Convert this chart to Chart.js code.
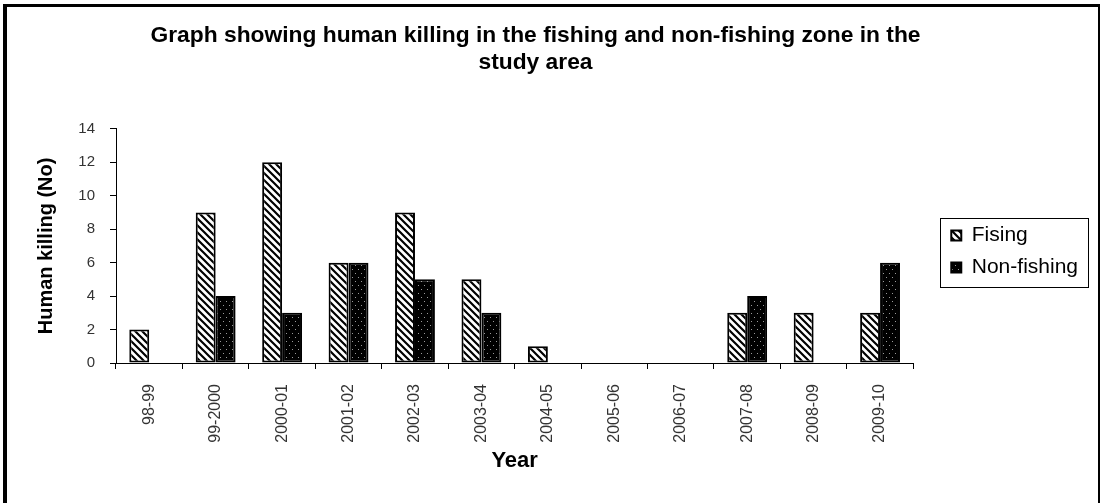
<!DOCTYPE html>
<html>
<head>
<meta charset="utf-8">
<script src="https://cdn.jsdelivr.net/npm/chart.js@4.4.1/dist/chart.umd.min.js"></script>
<style>
  body { margin: 0; background: #fff; }
  #wrap { position: relative; width: 1100px; height: 503px; overflow: hidden; }
  #killChart { position: absolute; left: 0; top: 0; }
  #frame {
    position: absolute; left: 3px; top: 4px; width: 1091px; height: 520px;
    border-left: 4px solid #000; border-top: 3px solid #000; border-right: 2px solid #000;
    pointer-events: none;
  }
</style>
</head>
<body>
<div id="wrap">
  <canvas id="killChart" width="1100" height="503"></canvas>
  <div id="frame"></div>
</div>
<script>
const years = ['98-99', '99-2000', '2000-01', '2001-02', '2002-03', '2003-04',
               '2004-05', '2005-06', '2006-07', '2007-08', '2008-09', '2009-10'];
const fishing = [2, 9, 12, 6, 9, 5, 1, 0, 0, 3, 3, 3];
const nonFishing = [0, 4, 3, 6, 5, 3, 0, 0, 0, 4, 0, 6];
const yTicks = [0, 2, 4, 6, 8, 10, 12, 14];
const seriesNames = ['Fising', 'Non-fishing'];

const FONT = 'Arial, "Liberation Sans", sans-serif';
const canvas = document.getElementById('killChart');
const ctx = canvas.getContext('2d');

// diagonal hatch, lines running down to the right
function hatchPattern() {
    const s = 7;
    const c = document.createElement('canvas');
    c.width = s; c.height = s;
    const g = c.getContext('2d');
    g.fillStyle = '#fff';
    g.fillRect(0, 0, s, s);
    g.strokeStyle = '#000';
    g.lineWidth = 2.2;
    g.beginPath();
    g.moveTo(-1, -1); g.lineTo(s + 1, s + 1);
    g.moveTo(-2, s - 2); g.lineTo(2, s + 2);
    g.moveTo(s - 2, -2); g.lineTo(s + 2, 2);
    g.stroke();
    return ctx.createPattern(c, 'repeat');
}

// black fill with small light dots
function dotPattern() {
    const c = document.createElement('canvas');
    c.width = 6; c.height = 8;
    const g = c.getContext('2d');
    g.fillStyle = '#000';
    g.fillRect(0, 0, 6, 8);
    g.fillStyle = '#9a9a9a';
    g.fillRect(1, 1, 1, 1);
    g.fillRect(4, 5, 1, 1);
    return ctx.createPattern(c, 'repeat');
}

// legend sits a bit away from the plot and gets a thin box around it
const legendFrame = {
    id: 'legendFrame',
    afterLayout(chart) {
        const lg = chart.legend;
        lg.left += 27;
        lg.right += 27;
    },
    afterDraw(chart) {
        const hb = chart.legend.legendHitBoxes;
        if (!hb || !hb.length) return;
        const left = Math.min(...hb.map(b => b.left)) - 11;
        const top = Math.min(...hb.map(b => b.top)) - 7.5;
        const right = Math.max(...hb.map(b => b.left + b.width)) + 10;
        const bottom = Math.max(...hb.map(b => b.top + b.height)) + 8.5;
        const c = chart.ctx;
        c.save();
        c.strokeStyle = '#000';
        c.lineWidth = 1;
        c.strokeRect(Math.round(left) + 0.5, Math.round(top) + 0.5,
                     Math.round(right - left), Math.round(bottom - top));
        c.restore();
    }
};

new Chart(ctx, {
    type: 'bar',
    data: {
        labels: years,
        datasets: [{
            label: seriesNames[0],
            data: fishing,
            backgroundColor: hatchPattern(),
            borderColor: '#000',
            borderWidth: 2,
            borderSkipped: false
        }, {
            label: seriesNames[1],
            data: nonFishing,
            backgroundColor: dotPattern(),
            borderColor: '#000',
            borderWidth: 2,
            borderSkipped: false
        }]
    },
    options: {
        responsive: false,
        animation: false,
        layout: { padding: { left: 10, right: 39, top: 0, bottom: 0 } },
        datasets: {
            bar: { categoryPercentage: 0.6, barPercentage: 1.0 }
        },
        plugins: {
            title: {
                display: true,
                text: ['Graph showing human killing in the fishing and non-fishing zone in the', 'study area'],
                color: '#000',
                font: { family: FONT, size: 22.8, weight: 'bold', lineHeight: 1.18 },
                padding: { top: 22, bottom: 53 }
            },
            legend: {
                position: 'right',
                align: 'center',
                labels: {
                    color: '#000',
                    font: { family: FONT, size: 21 },
                    boxWidth: 10,
                    boxHeight: 10,
                    padding: 11
                }
            },
            tooltip: { enabled: false }
        },
        scales: {
            x: {
                grid: { drawOnChartArea: false, color: '#000', tickLength: 6, offset: true },
                border: { color: '#000', width: 1 },
                ticks: {
                    color: '#333',
                    font: { family: FONT, size: 16 },
                    minRotation: 90,
                    maxRotation: 90,
                    autoSkip: false,
                    padding: 15
                },
                title: {
                    display: true,
                    text: 'Year',
                    color: '#000',
                    font: { family: FONT, size: 22, weight: 'bold', lineHeight: 1.2 },
                    padding: { top: 0, bottom: 29 }
                },
                afterFit(scale) { scale.height = 140; }
            },
            y: {
                min: yTicks[0],
                max: yTicks[yTicks.length - 1],
                afterBuildTicks(scale) { scale.ticks = yTicks.map(v => ({ value: v })); },
                grid: { drawOnChartArea: false, color: '#000', tickLength: 6 },
                border: { color: '#000', width: 1 },
                ticks: {
                    color: '#333',
                    font: { family: FONT, size: 15 },
                    padding: 15
                },
                title: {
                    display: true,
                    text: 'Human killing (No)',
                    color: '#000',
                    font: { family: FONT, size: 20, weight: 'bold', lineHeight: 1.2 },
                    padding: { top: 24, bottom: 0 }
                },
                afterFit(scale) { scale.width = 106; }
            }
        }
    },
    plugins: [legendFrame]
});
</script>
</body>
</html>
